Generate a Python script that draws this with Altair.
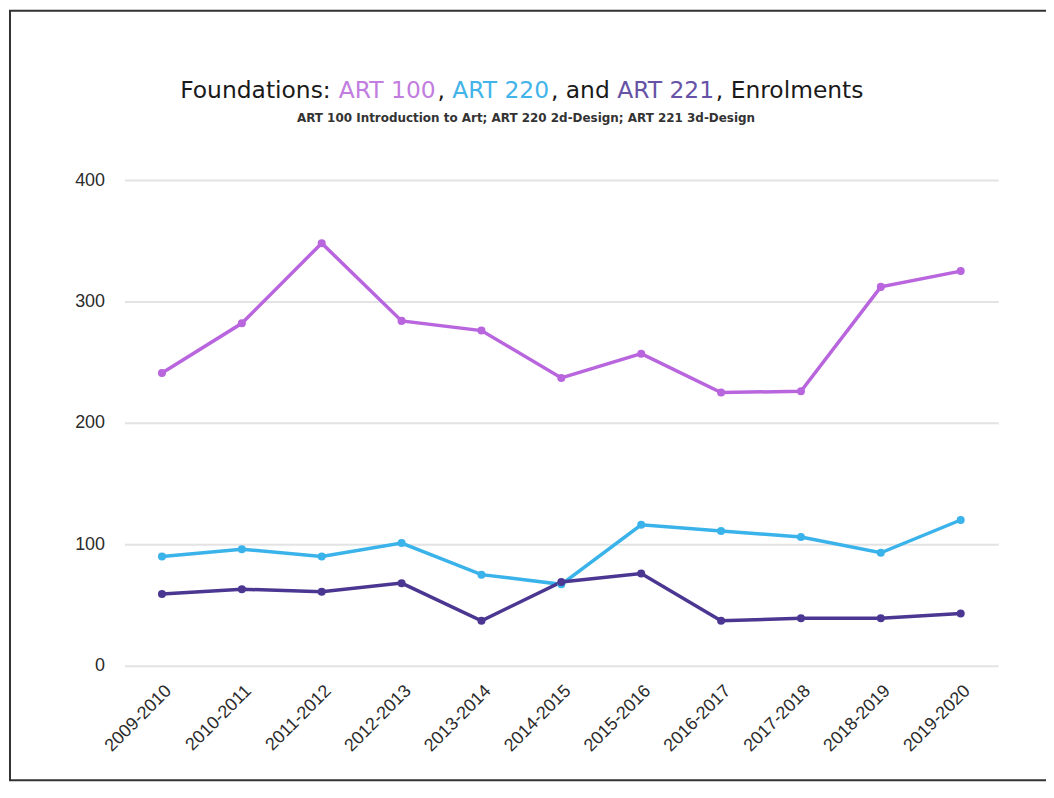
import altair as alt
import pandas as pd

seasons = ["2009-2010", "2010-2011", "2011-2012", "2012-2013", "2013-2014", "2014-2015",
           "2015-2016", "2016-2017", "2017-2018", "2018-2019", "2019-2020"]
art100 = [241, 282, 348, 284, 276, 237, 257, 225, 226, 312, 325]
art220 = [90, 96, 90, 101, 75, 67, 116, 111, 106, 93, 120]
art221 = [59, 63, 61, 68, 37, 69, 76, 37, 39, 39, 43]
series_names = ["ART 100", "ART 220", "ART 221"]
series_colors = ["#b865de", "#3ab2ea", "#4b3791"]

rows = []
for name, vals in zip(series_names, [art100, art220, art221]):
    for s, v in zip(seasons, vals):
        rows.append({"season": s, "value": v, "course": name})
df = pd.DataFrame(rows)

title_segments = ["Foundations:", "ART 100", ",", "ART 220", ", and", "ART 221", ", Enrolments"]
title_x = [56, 215.4, 314.5, 329.4, 428.5, 495.1, 594.2]
title_colors = ["#1a1a1a", "#c27de0", "#1a1a1a", "#42b4ea", "#1a1a1a", "#6653a6", "#1a1a1a"]
subtitle = "ART 100 Introduction to Art; ART 220 2d-Design; ART 221 3d-Design"

x_enc = alt.X("season:N", sort=seasons,
              scale=alt.Scale(type="point", padding=0.47),
              axis=alt.Axis(title=None, labelAngle=-45, domain=False, ticks=False, grid=False,
                            labelFont="Liberation Sans", labelFontSize=18, labelColor="#2b2b2b",
                            labelPadding=16))
y_enc = alt.Y("value:Q", scale=alt.Scale(domain=[0, 400]),
              axis=alt.Axis(title=None, values=[0, 100, 200, 300, 400], domain=False, ticks=False,
                            gridColor="#e3e3e3", gridWidth=2, labelFont="Liberation Sans",
                            labelFontSize=18, labelColor="#2b2b2b", labelPadding=20))
color_enc = alt.Color("course:N", scale=alt.Scale(domain=series_names, range=series_colors), legend=None)

base = alt.Chart(df)
lines = base.mark_line(strokeWidth=3.5).encode(x=x_enc, y=y_enc, color=color_enc)
points = base.mark_circle(size=65, opacity=1).encode(x=x_enc, y=y_enc, color=color_enc)

tdf = pd.DataFrame({"seg": title_segments, "px": title_x, "col": title_colors})
title = alt.Chart(tdf).mark_text(align="left", baseline="alphabetic", font="DejaVu Sans",
                                 fontSize=23.5).encode(
    x=alt.X("px:Q", scale=None), y=alt.value(-82), text="seg:N",
    color=alt.Color("col:N", scale=None))

sdf = pd.DataFrame({"t": [subtitle]})
sub = alt.Chart(sdf).mark_text(align="center", baseline="alphabetic", font="DejaVu Sans",
                               fontSize=12, fontWeight="bold", color="#333333").encode(
    x=alt.value(403.5), y=alt.value(-58), text="t:N")

frame = alt.Chart(pd.DataFrame({"a": [1]})).mark_rect(filled=False, stroke="#333333",
                                                       strokeWidth=2).encode(
    x=alt.value(-115), x2=alt.value(940), y=alt.value(-170), y2=alt.value(603))

chart = alt.layer(lines, points, title, sub, frame).properties(
    width=878, height=488,
    autosize=alt.AutoSizeParams(type="none"),
    padding={"left": 117, "top": 171, "right": 48, "bottom": 117},
).configure_view(stroke=None)

chart.save("out.html", embed_options={"renderer": "svg", "actions": False})
